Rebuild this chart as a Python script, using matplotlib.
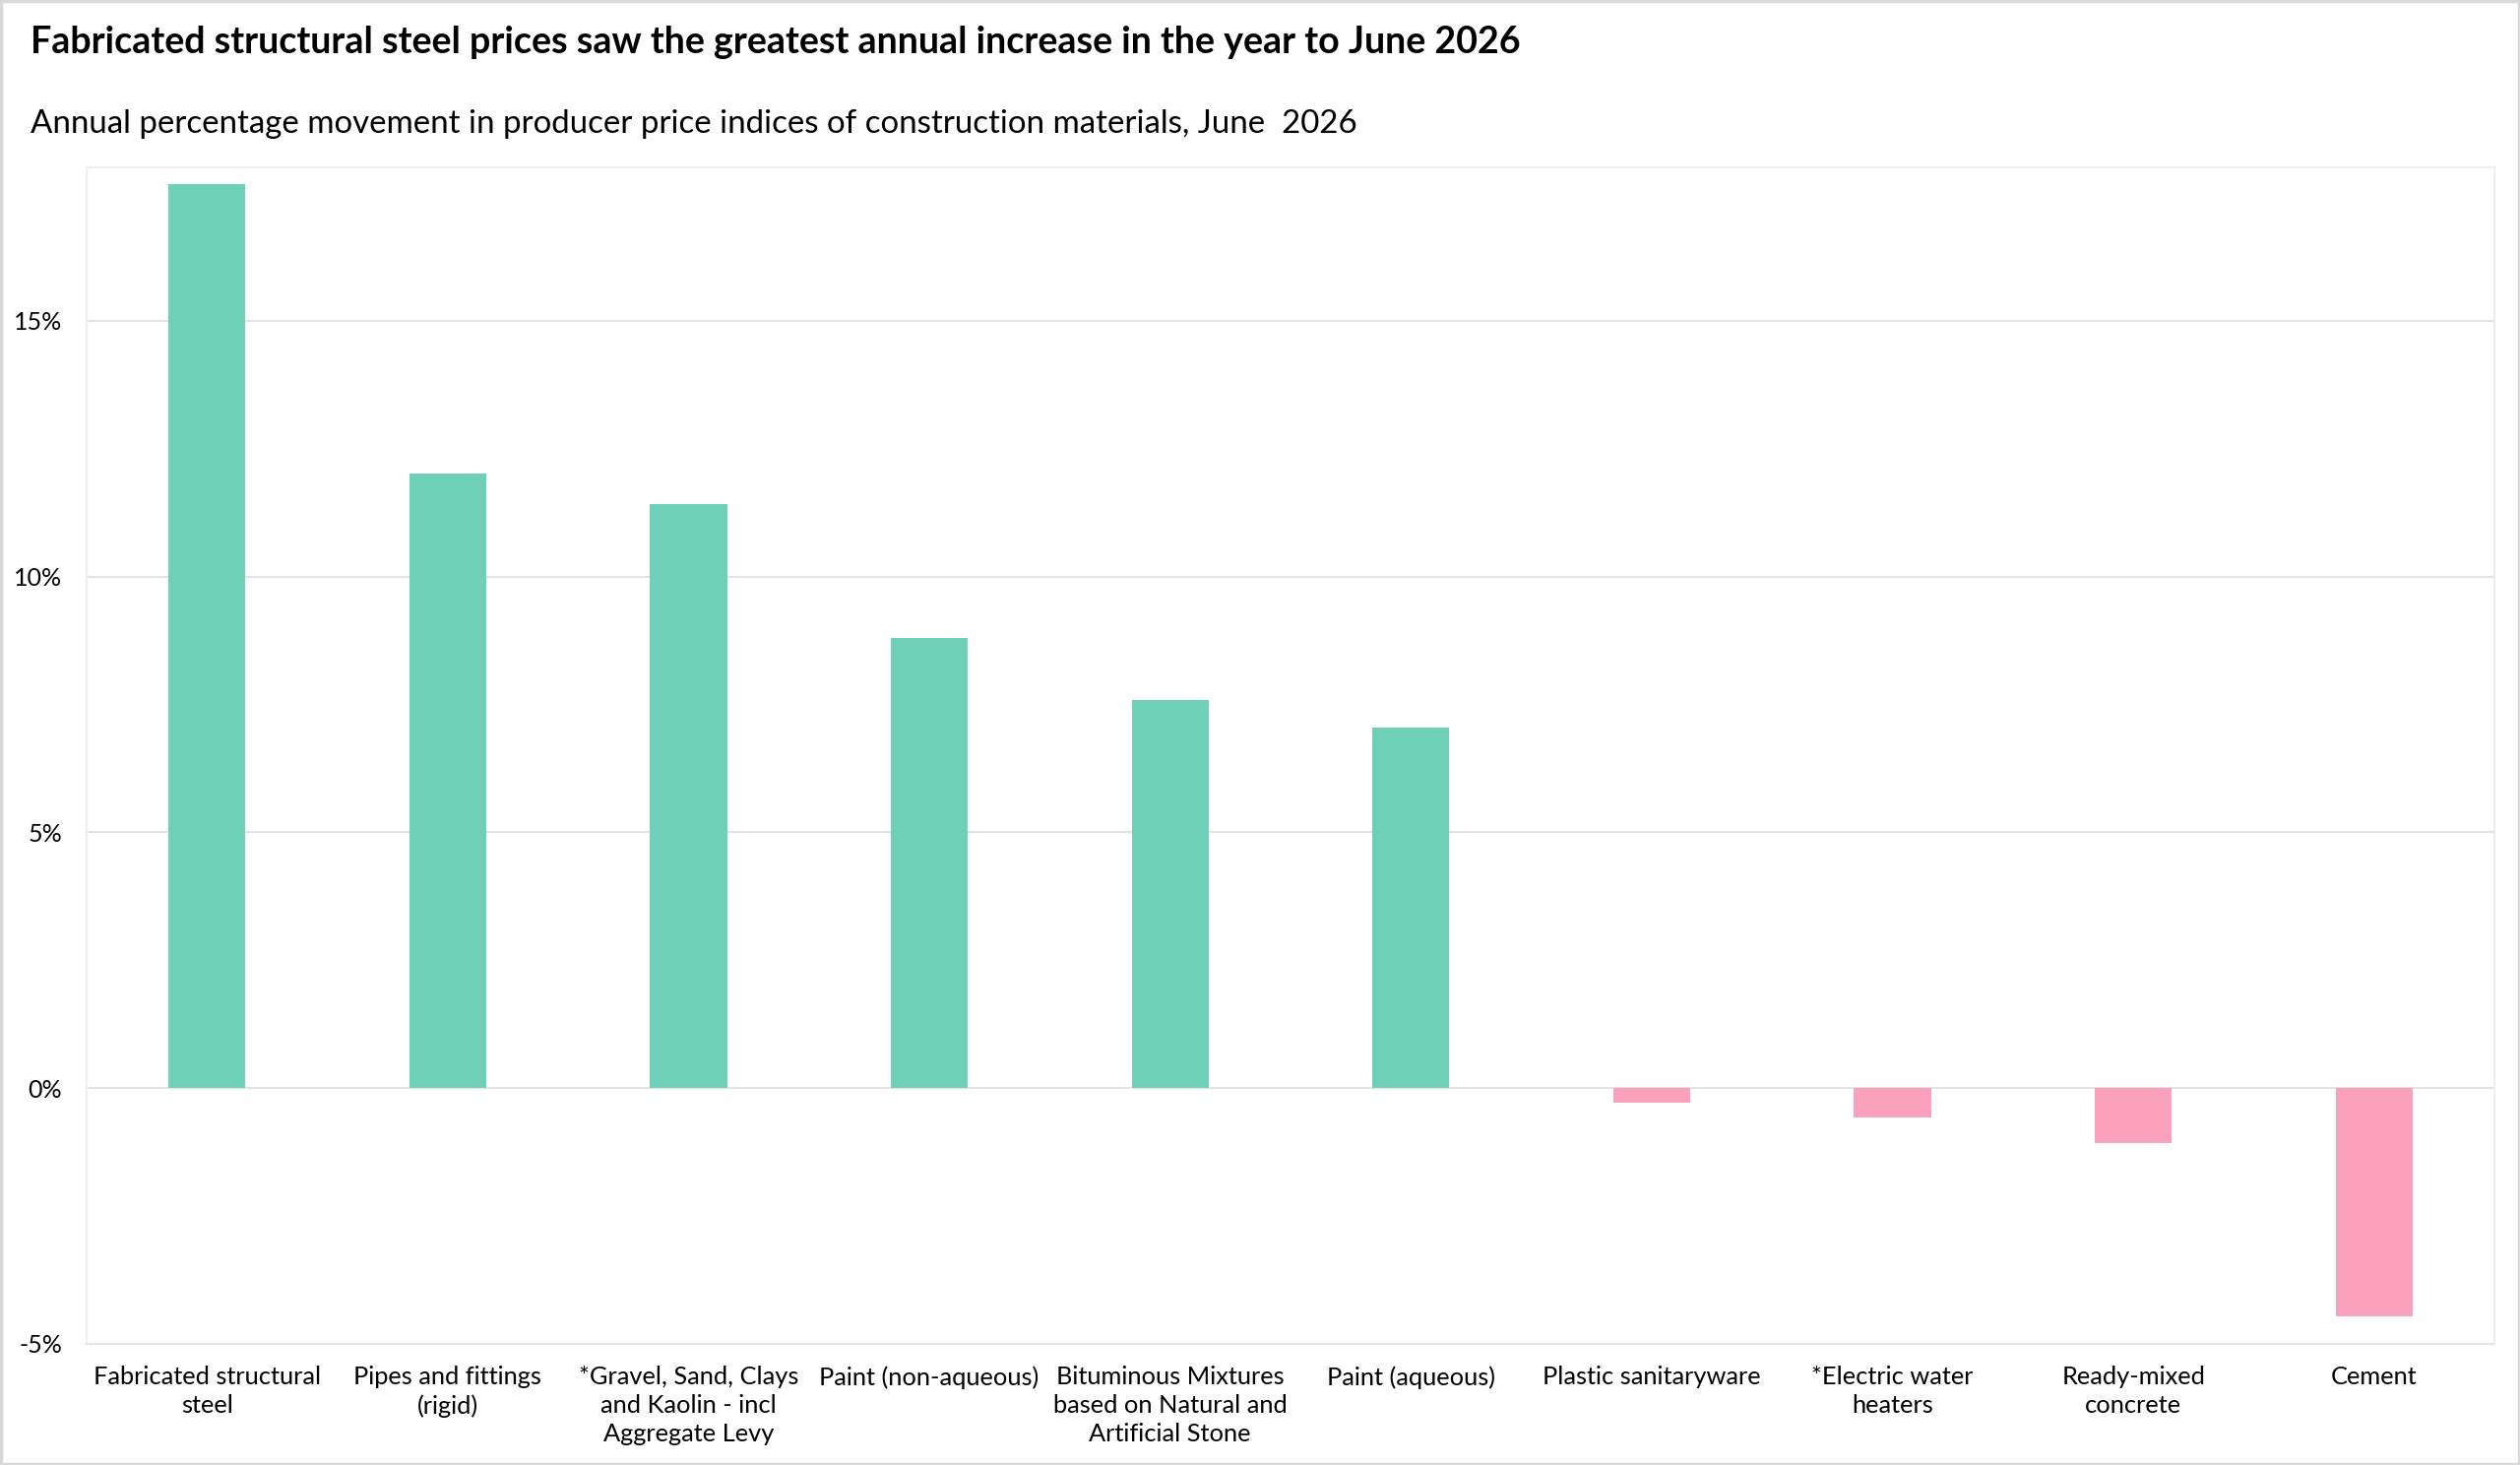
import matplotlib
matplotlib.use('Agg')
import matplotlib.pyplot as plt
from matplotlib.patches import Rectangle
from matplotlib.ticker import FuncFormatter

plt.rcParams['font.family'] = ['Lato', 'DejaVu Sans']

# Data
categories = [
    'Fabricated structural\nsteel',
    'Pipes and fittings\n(rigid)',
    '*Gravel, Sand, Clays\nand Kaolin - incl\nAggregate Levy',
    'Paint (non-aqueous)',
    'Bituminous Mixtures\nbased on Natural and\nArtificial Stone',
    'Paint (aqueous)',
    'Plastic sanitaryware',
    '*Electric water\nheaters',
    'Ready-mixed\nconcrete',
    'Cement',
]
values = [17.67, 12.01, 11.42, 8.80, 7.58, 7.04, -0.28, -0.57, -1.07, -4.47]
yticks = [-5, 0, 5, 10, 15]

pos_color = '#6fd0b8'
neg_color = '#f9a1bd'
grid_color = '#e3e3e3'

fig = plt.figure(figsize=(25.6, 14.88), dpi=100)
ax = fig.add_axes([88 / 2560, 1 - 1365 / 1488, (2534 - 88) / 2560, (1365 - 170) / 1488])

x = list(range(len(categories)))
colors = [pos_color if v >= 0 else neg_color for v in values]
ax.bar(x, values, width=0.32, color=colors, zorder=3)

ax.set_xlim(-0.5, len(categories) - 0.5)
ax.set_ylim(-5, 18)
ax.set_yticks(yticks)
ax.yaxis.set_major_formatter(FuncFormatter(lambda v, p: f'{v:.0f}%'))
ax.set_xticks(x)
ax.set_xticklabels(categories, fontsize=18.3, linespacing=1.32)
ax.tick_params(axis='y', length=0, labelsize=18, pad=18)
ax.tick_params(axis='x', length=0, pad=16)

ax.grid(axis='y', color=grid_color, linewidth=1.5, zorder=0)
for side in ['top', 'right', 'left']:
    ax.spines[side].set_color('#ececec')
    ax.spines[side].set_linewidth(1.2)
ax.spines['bottom'].set_color(grid_color)
ax.spines['bottom'].set_linewidth(1.5)

fig.text(31 / 2560, 1 - 54 / 1488,
         'Fabricated structural steel prices saw the greatest annual increase in the year to June 2026',
         fontsize=27.1, fontweight='bold', ha='left', va='baseline')
fig.text(31 / 2560, 1 - 135 / 1488,
         'Annual percentage movement in producer price indices of construction materials, June  2026',
         fontsize=23.8, ha='left', va='baseline')

# light outer border around the figure
fig.patches.append(Rectangle((0.0005, 0.0008), 0.999, 0.9985, transform=fig.transFigure,
                             fill=False, edgecolor='#d9d9d9', linewidth=2.5))

fig.savefig('out.png', dpi=100)
